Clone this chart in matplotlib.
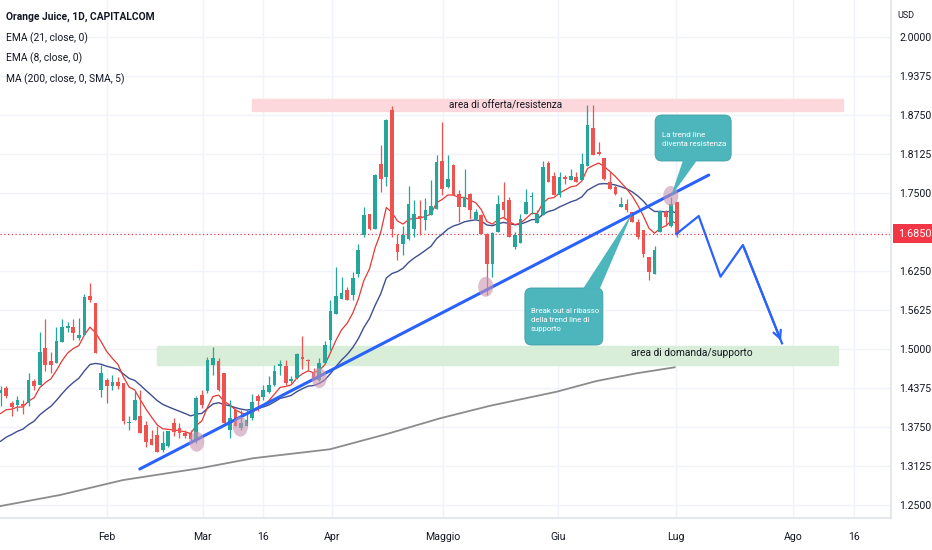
import matplotlib
matplotlib.use("Agg")
import matplotlib.pyplot as plt
import matplotlib.transforms as mtransforms
from matplotlib.patches import Rectangle, Ellipse, Polygon, FancyBboxPatch
import numpy as np
import pandas as pd

# candele giornaliere (indice barra = posizione)
opens = [1.430, 1.437, 1.413, 1.410, 1.412, 1.413, 1.448, 1.442, 1.501, 1.481,
         1.477, 1.512, 1.533, 1.535, 1.518, 1.522, 1.585, 1.574, 1.434, 1.451,
         1.441, 1.447, 1.446, 1.381, 1.387, 1.393, 1.378, 1.355, 1.362, 1.338,
         1.345, 1.381, 1.374, 1.365, 1.366, 1.352, 1.427, 1.432, 1.474, 1.481,
         1.461, 1.371, 1.402, 1.374, 1.377, 1.389, 1.425, 1.423, 1.431, 1.443,
         1.473, 1.472, 1.449, 1.453, 1.487, 1.483, 1.463, 1.451, 1.478, 1.514,
         1.556, 1.580, 1.594, 1.587, 1.620, 1.683, 1.717, 1.692, 1.796, 1.775,
         1.883, 1.668, 1.668, 1.676, 1.693, 1.713, 1.707, 1.715, 1.725, 1.802,
         1.759, 1.795, 1.749, 1.728, 1.749, 1.709, 1.715, 1.685, 1.637, 1.688,
         1.736, 1.739, 1.664, 1.670, 1.717, 1.743, 1.702, 1.715, 1.798, 1.777,
         1.747, 1.775, 1.771, 1.775, 1.771, 1.793, 1.854, 1.815, 1.806, 1.768,
         1.760, 1.728, 1.732, 1.720, 1.704, 1.691, 1.647, 1.620, 1.688, 1.720,
         1.697, 1.736]
highs = [1.440, 1.440, 1.416, 1.424, 1.418, 1.461, 1.452, 1.528, 1.548, 1.496,
         1.536, 1.548, 1.544, 1.548, 1.549, 1.588, 1.606, 1.574, 1.474, 1.453,
         1.458, 1.455, 1.446, 1.393, 1.432, 1.435, 1.385, 1.371, 1.376, 1.369,
         1.368, 1.389, 1.381, 1.370, 1.371, 1.425, 1.434, 1.488, 1.504, 1.485,
         1.461, 1.418, 1.405, 1.402, 1.403, 1.428, 1.428, 1.442, 1.456, 1.475,
         1.482, 1.482, 1.456, 1.494, 1.521, 1.484, 1.469, 1.485, 1.513, 1.579,
         1.632, 1.616, 1.600, 1.624, 1.669, 1.727, 1.717, 1.780, 1.827, 1.868,
         1.889, 1.685, 1.697, 1.761, 1.739, 1.739, 1.742, 1.771, 1.811, 1.864,
         1.811, 1.796, 1.755, 1.789, 1.750, 1.724, 1.716, 1.686, 1.688, 1.747,
         1.768, 1.744, 1.688, 1.716, 1.756, 1.751, 1.723, 1.801, 1.801, 1.784,
         1.784, 1.779, 1.789, 1.784, 1.814, 1.891, 1.891, 1.832, 1.806, 1.784,
         1.763, 1.744, 1.741, 1.720, 1.709, 1.691, 1.648, 1.665, 1.723, 1.723,
         1.744, 1.736]
lows = [1.408, 1.421, 1.392, 1.400, 1.396, 1.408, 1.434, 1.442, 1.464, 1.461,
        1.477, 1.511, 1.528, 1.514, 1.514, 1.522, 1.576, 1.494, 1.423, 1.413,
        1.434, 1.436, 1.380, 1.370, 1.387, 1.365, 1.343, 1.346, 1.335, 1.335,
        1.343, 1.360, 1.357, 1.357, 1.352, 1.349, 1.405, 1.429, 1.458, 1.432,
        1.381, 1.357, 1.376, 1.371, 1.376, 1.386, 1.400, 1.418, 1.429, 1.441,
        1.458, 1.442, 1.445, 1.452, 1.468, 1.466, 1.451, 1.449, 1.478, 1.498,
        1.556, 1.580, 1.578, 1.579, 1.616, 1.680, 1.691, 1.692, 1.752, 1.761,
        1.680, 1.643, 1.651, 1.675, 1.680, 1.683, 1.691, 1.714, 1.724, 1.747,
        1.758, 1.747, 1.704, 1.727, 1.708, 1.707, 1.685, 1.587, 1.616, 1.687,
        1.709, 1.679, 1.660, 1.670, 1.716, 1.717, 1.702, 1.714, 1.768, 1.747,
        1.744, 1.765, 1.771, 1.768, 1.771, 1.793, 1.811, 1.811, 1.771, 1.757,
        1.747, 1.728, 1.720, 1.704, 1.677, 1.648, 1.611, 1.620, 1.688, 1.697,
        1.696, 1.680]
closes = [1.434, 1.424, 1.407, 1.418, 1.408, 1.450, 1.440, 1.495, 1.474, 1.474,
          1.513, 1.535, 1.537, 1.526, 1.522, 1.583, 1.578, 1.494, 1.461, 1.441,
          1.447, 1.441, 1.384, 1.383, 1.418, 1.365, 1.351, 1.346, 1.335, 1.350,
          1.368, 1.367, 1.365, 1.361, 1.355, 1.422, 1.410, 1.483, 1.485, 1.434,
          1.381, 1.390, 1.376, 1.381, 1.386, 1.415, 1.416, 1.434, 1.442, 1.465,
          1.476, 1.445, 1.452, 1.492, 1.484, 1.481, 1.452, 1.478, 1.506, 1.561,
          1.585, 1.589, 1.578, 1.614, 1.659, 1.715, 1.693, 1.779, 1.773, 1.867,
          1.693, 1.656, 1.683, 1.733, 1.716, 1.710, 1.723, 1.729, 1.799, 1.757,
          1.772, 1.747, 1.728, 1.744, 1.723, 1.720, 1.685, 1.637, 1.686, 1.733,
          1.723, 1.680, 1.683, 1.709, 1.736, 1.746, 1.716, 1.792, 1.768, 1.747,
          1.776, 1.772, 1.777, 1.768, 1.796, 1.859, 1.811, 1.812, 1.773, 1.757,
          1.748, 1.732, 1.723, 1.704, 1.679, 1.653, 1.624, 1.658, 1.721, 1.711,
          1.733, 1.685]

# valori delle medie prima della prima candela visibile
ema8_start = 1.386
ema21_start = 1.344

# MA 200
ma200_bar = [0, 10.6, 21.9, 35.7, 45.2, 58.9, 69.1, 78.6, 87.6, 99.5, 106.6, 113.8, 120.6]
ma200_val = [1.2484, 1.266, 1.290, 1.309, 1.325, 1.3393, 1.3638, 1.3889, 1.4091,
             1.4316, 1.4487, 1.4611, 1.4707]

tick_pos = [19.0, 36.2, 46.9, 59.3, 79.1, 99.7, 120.8, 141.8, 152.7]
tick_labels = ["Feb", "Mar", "16", "Apr", "Maggio", "Giu", "Lug", "Ago", "16"]
price_ticks = [1.25, 1.3125, 1.375, 1.4375, 1.5, 1.5625, 1.625, 1.6875,
               1.75, 1.8125, 1.875, 1.9375, 2.0]
last_price = 1.685

# disegni
trend_x = [24.9, 126.7]
trend_y = [1.3077, 1.7788]
zigzag_x = [120.9, 124.9, 128.8, 132.8, 139.8]
zigzag_y = [1.6843, 1.7131, 1.6159, 1.6667, 1.5091]
touch_x = [35.1, 42.9, 57.0, 86.8, 119.9]
touch_y = [1.3514, 1.3755, 1.4535, 1.5998, 1.7452]
offer_zone = (45.0, 150.7, 1.8814, 1.9006)
demand_zone = (28.0, 149.8, 1.4744, 1.5048)

TEAL = "#26a69a"
RED = "#ef5350"
BLUE = "#2962ff"
TXT = "#131722"
plt.rcParams["font.family"] = ["Roboto", "DejaVu Sans"]

fig = plt.figure(figsize=(9.32, 5.5), dpi=100)
ax = fig.add_axes([0, 32 / 550, 891 / 932, 518 / 550])
ax.set_xlim(-0.107, 159.3)
ax.set_ylim(1.2292, 2.0593)

# griglia
for p in price_ticks:
    ax.axhline(p, color="#f0f3fa", lw=1, zorder=0)
for t in tick_pos:
    ax.axvline(t, color="#f0f3fa", lw=1, zorder=0)

# aree
x0, x1, y0, y1 = offer_zone
ax.add_patch(Rectangle((x0, y0), x1 - x0, y1 - y0, color="#fcd8dc", zorder=1))
ax.text(90.4, (y0 + y1) / 2, "area di offerta/resistenza", ha="center", va="center",
        fontsize=7.2, color=TXT, zorder=2)
x0, x1, y0, y1 = demand_zone
ax.add_patch(Rectangle((x0, y0), x1 - x0, y1 - y0, color="#d9eed9", zorder=1))
ax.text(123.7, (y0 + y1) / 2 + 0.004, "area di domanda/supporto", ha="center", va="center",
        fontsize=7.4, color=TXT, zorder=2)

# medie
idx = np.arange(len(closes))
ema8 = pd.Series([ema8_start] + closes).ewm(span=8, adjust=False).mean().values[1:]
ema21 = pd.Series([ema21_start] + closes).ewm(span=21, adjust=False).mean().values[1:]
ax.plot(ma200_bar, ma200_val, color="#8c8c8c", lw=1.3, zorder=3)
ax.plot(idx, ema21, color="#3f4f8f", lw=1.0, zorder=3)
ax.plot(idx, ema8, color="#e53935", lw=0.9, zorder=3)

# candele
o = np.array(opens)
c = np.array(closes)
colors = [TEAL if cc >= oo else RED for oo, cc in zip(o, c)]
body = np.maximum(np.abs(c - o), 0.002)
ax.vlines(idx, lows, highs, colors=colors, lw=0.9, zorder=4)
ax.bar(idx, body, bottom=np.minimum(o, c), width=0.66, color=colors, zorder=4)

# prezzo attuale
ax.axhline(last_price, color="#f23645", lw=0.9, ls=(0, (1, 2)), zorder=2)
tr = mtransforms.blended_transform_factory(ax.transAxes, ax.transData)
ax.text(1.008, last_price, "1.6850", transform=tr, ha="left", va="center",
        fontsize=7.8, color="white",
        bbox=dict(boxstyle="square,pad=0.45", fc="#f23645", ec="none"),
        clip_on=False, zorder=10)

# trend line e tocchi
ax.plot(trend_x, trend_y, color=BLUE, lw=2.2, zorder=5, solid_capstyle="round")
for tx, ty in zip(touch_x, touch_y):
    ax.add_patch(Ellipse((tx, ty), 2.7, 0.032, color="#c994b0", alpha=0.6, lw=0, zorder=6))

# proiezione
ax.plot(zigzag_x, zigzag_y, color=BLUE, lw=1.6, zorder=5)
ax.annotate("", xy=(zigzag_x[-1], zigzag_y[-1]), xytext=(zigzag_x[-2], zigzag_y[-2]),
            arrowprops=dict(arrowstyle="->", color=BLUE, lw=1.6, mutation_scale=14), zorder=5)

# fumetti
BOX = "#4db6bc"
asp = 0.0016026 / 0.1789
ax.add_patch(FancyBboxPatch((117.1, 1.8013), 13.6, 0.0737,
                            boxstyle="round,pad=0,rounding_size=1.2", mutation_aspect=asp,
                            fc=BOX, ec="#3f9ea4", lw=0.6, zorder=7))
ax.add_patch(Polygon([(122.1, 1.8025), (124.6, 1.8025), (119.9, 1.7441)],
                     closed=True, fc=BOX, ec="none", zorder=7))
ax.text(118.3, 1.8357, "La trend line\ndiventa resistenza", ha="left", va="center",
        fontsize=5.8, color="white", linespacing=1.75, zorder=8)

ax.add_patch(FancyBboxPatch((93.8, 1.5064), 13.95, 0.0914,
                            boxstyle="round,pad=0,rounding_size=1.2", mutation_aspect=asp,
                            fc=BOX, ec="#3f9ea4", lw=0.6, zorder=7))
ax.add_patch(Polygon([(104.2, 1.5966), (107.2, 1.5966), (113.1, 1.7196)],
                     closed=True, fc=BOX, ec="none", zorder=7))
ax.text(94.9, 1.5465, "Break out al ribasso\ndella trend line di\nsupporto", ha="left",
        va="center", fontsize=5.6, color="white", linespacing=1.65, zorder=8)

# assi
ax.set_xticks(tick_pos)
ax.set_xticklabels(tick_labels)
ax.yaxis.tick_right()
ax.set_yticks(price_ticks)
ax.set_yticklabels([f"{p:.4f}" for p in price_ticks])
ax.tick_params(axis="both", length=0, colors=TXT, labelsize=7.6)
ax.tick_params(axis="x", pad=10)
ax.tick_params(axis="y", pad=6)
for s in ["top", "left"]:
    ax.spines[s].set_visible(False)
for s in ["right", "bottom"]:
    ax.spines[s].set_color("#e0e3eb")
    ax.spines[s].set_linewidth(1.2)

# legenda in alto a sinistra
fig.text(6 / 932, 1 - 17 / 550, "Orange Juice, 1D, CAPITALCOM", fontsize=7.4,
         fontweight="bold", color=TXT, va="center")
for i, lab in enumerate(["EMA (21, close, 0)", "EMA (8, close, 0)", "MA (200, close, 0, SMA, 5)"]):
    fig.text(6 / 932, 1 - (38 + 20.5 * i) / 550, lab, fontsize=7.4, color=TXT, va="center")
fig.text(897 / 932, 1 - 15 / 550, "USD", fontsize=6.5, color=TXT, va="center")

fig.savefig("out.png", dpi=100)
